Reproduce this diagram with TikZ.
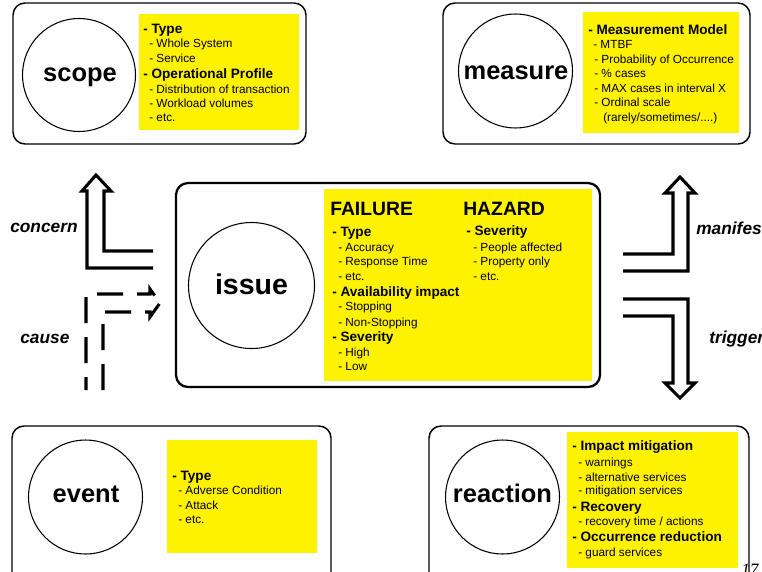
\documentclass[tikz,border=0pt]{standalone}
\usepackage{fontspec}
\setmainfont{Liberation Sans}
\newfontfamily\serifnum{Liberation Serif}
\begin{document}
\begin{tikzpicture}[x=0.75pt,y=-0.75pt,
  frame/.style={draw=black,line width=1.1pt,rounded corners=9pt},
  ybox/.style={fill=yellow,draw=none},
  circ/.style={draw=black,line width=0.8pt},
  big/.style={inner sep=0,anchor=base,font=\fontsize{19.1}{22}\selectfont\bfseries},
  hd/.style={inner sep=0,anchor=base west,font=\fontsize{10.2}{12}\selectfont\bfseries},
  sb/.style={inner sep=0,anchor=base west,font=\fontsize{8.85}{11}\selectfont},
  title/.style={inner sep=0,anchor=base west,font=\fontsize{14.5}{16}\selectfont\bfseries},
  rel/.style={inner sep=0,anchor=base west,font=\fontsize{13}{15}\selectfont\bfseries\itshape},
  barrow/.style={draw=black,line width=2.3pt,miter limit=10},
  darrow/.style={draw=black,line width=2.3pt,dash pattern=on 19.5pt off 10.5pt}
]
\useasboundingbox (0,0) rectangle (762,571);
\clip (0,0) rectangle (762,571);
\fill[white] (0,0) rectangle (762,571);

% ---------- frames ----------
\draw[frame] (13,3) rectangle (306,144);
\draw[frame] (443,3) rectangle (750,144);
\draw[frame,line width=1.7pt] (176,183) rectangle (600,387);
\draw[frame] (12,426) rectangle (331,600);
\draw[frame] (429,426) rectangle (749,600);

% ---------- yellow panels ----------
\fill[ybox] (139,14) rectangle (299,130);
\fill[ybox] (583,12) rectangle (739,133);
\fill[ybox] (324,189) rectangle (592,381);
\fill[ybox] (167,440) rectangle (317,553);
\fill[ybox] (567,432) rectangle (738,568);

% ---------- circles ----------
\draw[circ] (79,75) circle[radius=56.5];
\draw[circ] (515.5,71) circle[radius=57];
\draw[circ] (251.5,285.5) circle[radius=63];
\draw[circ] (85.5,497) circle[radius=57];
\draw[circ] (502.5,497) circle[radius=57];

\node[big] (scopeL) at (80,81) {scope};
\node[big] (measureL) at (516,79) {measure};
\node[big,font=\fontsize{21.4}{24}\selectfont\bfseries] (issueL) at (251.5,294) {issue};
\node[big] (eventL) at (86,502) {event};
\node[big] (reactionL) at (502.5,502) {reaction};

% ---------- scope text ----------
\node[hd] (s1) at (143,33) {- Type};
\node[sb] (s2) at (149,47) {- Whole System};
\node[sb] (s3) at (149,62) {- Service};
\node[hd] (s4) at (143,78) {- Operational Profile};
\node[sb] (s5) at (149,93) {- Distribution of transaction};
\node[sb] (s6) at (149,107) {- Workload volumes};
\node[sb] (s7) at (149,121) {- etc.};

% ---------- measure text ----------
\node[hd] (m1) at (588,34) {- Measurement Model};
\node[sb] (m2) at (593,48) {- MTBF};
\node[sb] (m3) at (594,63) {- Probability of Occurrence};
\node[sb] (m4) at (594,77) {- \% cases};
\node[sb] (m5) at (594,92) {- MAX cases in interval X};
\node[sb] (m6) at (594,106) {- Ordinal scale};
\node[sb] (m7) at (603,121) {(rarely/sometimes/....)};

% ---------- issue text ----------
\node[title] (fail) at (330,215) {FAILURE};
\node[title] (haz) at (463,215) {HAZARD};
\node[hd] (i1) at (332,236.7) {- Type};
\node[sb] (i2) at (338,251.7) {- Accuracy};
\node[sb] (i3) at (338,265.7) {- Response Time};
\node[sb] (i4) at (338,280.7) {- etc.};
\node[hd] (i5) at (332,296.3) {- Availability impact};
\node[sb] (i6) at (338,310.7) {- Stopping};
\node[sb] (i7) at (338,326.3) {- Non-Stopping};
\node[hd] (i8) at (332,341.3) {- Severity};
\node[sb] (i9) at (338,356.7) {- High};
\node[sb] (i10) at (338,370.7) {- Low};
\node[hd] (h1) at (466,235.5) {- Severity};
\node[sb] (h2) at (473,251.7) {- People affected};
\node[sb] (h3) at (473,265.7) {- Property only};
\node[sb] (h4) at (473,280.7) {- etc.};

% ---------- event text ----------
\node[hd] (e1) at (172,480) {- Type};
\node[sb] (e2) at (178,494) {- Adverse Condition};
\node[sb] (e3) at (178,509) {- Attack};
\node[sb] (e4) at (178,523) {- etc.};

% ---------- reaction text ----------
\node[hd] (r1) at (572,450) {- Impact mitigation};
\node[sb] (r2) at (578,466) {- warnings};
\node[sb] (r3) at (578,481) {- alternative services};
\node[sb] (r4) at (578,494.5) {- mitigation services};
\node[hd] (r5) at (572,511) {- Recovery};
\node[sb] (r6) at (578,525) {- recovery time / actions};
\node[hd] (r7) at (572,541) {- Occurrence reduction};
\node[sb] (r8) at (578,556) {- guard services};

% ---------- block arrows ----------
\draw[barrow] (153,268) -- (87,268) -- (87,191) -- (82,191) -- (96,175) -- (111,191) -- (104,191) -- (104,251) -- (153,251);
\draw[barrow] (623,254) -- (673,254) -- (673,193) -- (665,193) -- (680,177) -- (695,193) -- (688,193) -- (688,271) -- (623,271);
\draw[barrow] (623,299) -- (688,299) -- (688,383) -- (695,383) -- (680,398) -- (665,383) -- (673,383) -- (673,316) -- (623,316);

% dashed cause arrow
\draw[darrow,dash phase=9.75pt] (86,390) -- (86,294) -- (150,294) -- (150,289) -- (160,303);
\draw[darrow] (103,390) -- (103,312) -- (150,312) -- (150,317) -- (160,303);

% ---------- relation labels ----------
\node[rel] (concern) at (10,232) {concern};
\node[rel] (cause) at (20,343) {cause};
\node[rel] (manifest) at (696,234) {manifest};
\node[rel] (trigger) at (709,343) {trigger};

% page number
\node[inner sep=0,anchor=base west,font=\serifnum\fontsize{13}{15}\selectfont\itshape] (pnum) at (741,575) {17};
\end{tikzpicture}
\end{document}
